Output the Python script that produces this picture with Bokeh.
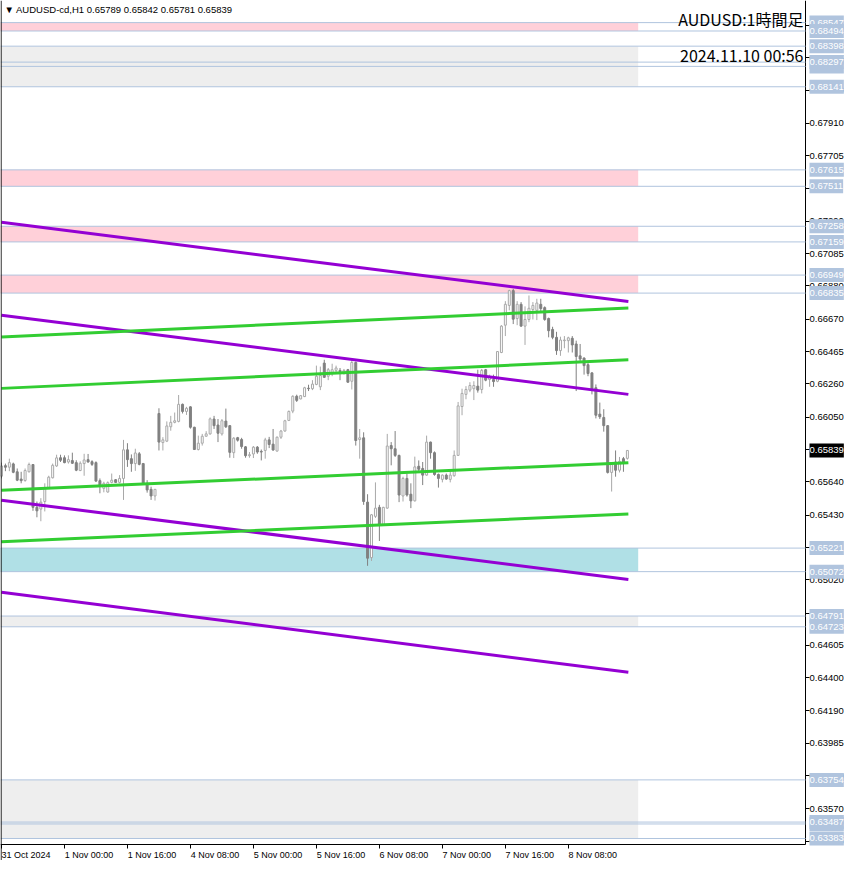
import numpy as np
from bokeh.plotting import figure
from bokeh.models import (Range1d, FixedTicker, Span, Label, ColumnDataSource,
                          PrintfTickFormatter, LinearAxis)
from bokeh.embed import file_html
from bokeh.resources import INLINE

# ---------------- data (AUDUSD-cd, H1) ----------------
open_ = [0.65676, 0.65743, 0.65733, 0.65754, 0.65704, 0.65658, 0.65649, 0.65704, 0.65750, 0.65479,
         0.65468, 0.65516, 0.65604, 0.65666, 0.65741, 0.65793, 0.65793, 0.65766, 0.65775, 0.65762,
         0.65712, 0.65756, 0.65781, 0.65768, 0.65762, 0.65648, 0.65599, 0.65576, 0.65637, 0.65654,
         0.65637, 0.65662, 0.65843, 0.65787, 0.65756, 0.65818, 0.65756, 0.65631, 0.65593, 0.65551,
         0.66073, 0.65889, 0.65898, 0.65989, 0.66017, 0.66023, 0.66131, 0.66086, 0.66115, 0.65986,
         0.65845, 0.65885, 0.65929, 0.65944, 0.66038, 0.66000, 0.65944, 0.66025, 0.65996, 0.65825,
         0.65920, 0.65908, 0.65862, 0.65806, 0.65817, 0.65860, 0.65833, 0.65839, 0.65906, 0.65879,
         0.65835, 0.65923, 0.65962, 0.66029, 0.66088, 0.66182, 0.66165, 0.66180, 0.66233, 0.66230,
         0.66257, 0.66242, 0.66392, 0.66309, 0.66330, 0.66346, 0.66346, 0.66334, 0.66350, 0.66277,
         0.66396, 0.65908, 0.65919, 0.65512, 0.65161, 0.65422, 0.65479, 0.65370, 0.65474, 0.65870,
         0.65850, 0.65808, 0.65551, 0.65662, 0.65562, 0.65520, 0.65739, 0.65725, 0.65683, 0.65892,
         0.65825, 0.65687, 0.65656, 0.65683, 0.65656, 0.65679, 0.65808, 0.66117, 0.66194, 0.66221,
         0.66230, 0.66246, 0.66225, 0.66350, 0.66288, 0.66288, 0.66277, 0.66459, 0.66632, 0.66757,
         0.66851, 0.66674, 0.66764, 0.66626, 0.66668, 0.66731, 0.66726, 0.66764, 0.66743, 0.66674,
         0.66605, 0.66555, 0.66471, 0.66534, 0.66534, 0.66549, 0.66513, 0.66438, 0.66424, 0.66382,
         0.66330, 0.66236, 0.66069, 0.66048, 0.65996, 0.65700, 0.65766, 0.65714, 0.65787, 0.65789]
high_ = [0.65762, 0.65756, 0.65787, 0.65762, 0.65725, 0.65704, 0.65725, 0.65762, 0.65752, 0.65516,
         0.65537, 0.65631, 0.65679, 0.65756, 0.65812, 0.65812, 0.65808, 0.65808, 0.65825, 0.65777,
         0.65770, 0.65818, 0.65817, 0.65777, 0.65770, 0.65662, 0.65641, 0.65643, 0.65693, 0.65658,
         0.65683, 0.65906, 0.65885, 0.65814, 0.65850, 0.65829, 0.65760, 0.65651, 0.65610, 0.65593,
         0.66106, 0.65923, 0.66023, 0.66058, 0.66079, 0.66190, 0.66136, 0.66115, 0.66119, 0.65989,
         0.65933, 0.65944, 0.65961, 0.66048, 0.66058, 0.66038, 0.66038, 0.66104, 0.66000, 0.65923,
         0.65925, 0.65919, 0.65867, 0.65829, 0.65867, 0.65867, 0.65845, 0.65919, 0.65925, 0.65975,
         0.65927, 0.65969, 0.66033, 0.66092, 0.66188, 0.66192, 0.66190, 0.66242, 0.66255, 0.66284,
         0.66376, 0.66370, 0.66413, 0.66361, 0.66388, 0.66376, 0.66361, 0.66355, 0.66355, 0.66413,
         0.66402, 0.65975, 0.65954, 0.65562, 0.65437, 0.65637, 0.65495, 0.65482, 0.65944, 0.65892,
         0.65962, 0.65812, 0.65673, 0.65693, 0.65631, 0.65800, 0.65776, 0.65766, 0.65933, 0.65895,
         0.65833, 0.65693, 0.65687, 0.65693, 0.65704, 0.65839, 0.66146, 0.66230, 0.66246, 0.66271,
         0.66277, 0.66350, 0.66355, 0.66355, 0.66319, 0.66319, 0.66468, 0.66632, 0.66784, 0.66856,
         0.66862, 0.66784, 0.66778, 0.66751, 0.66820, 0.66778, 0.66799, 0.66799, 0.66751, 0.66680,
         0.66622, 0.66590, 0.66559, 0.66563, 0.66559, 0.66563, 0.66534, 0.66513, 0.66428, 0.66392,
         0.66334, 0.66257, 0.66142, 0.66100, 0.66000, 0.65756, 0.65839, 0.65798, 0.65798, 0.65842]
low_ = [0.65662, 0.65708, 0.65708, 0.65695, 0.65645, 0.65631, 0.65641, 0.65700, 0.65457, 0.65416,
        0.65391, 0.65453, 0.65599, 0.65662, 0.65735, 0.65766, 0.65758, 0.65756, 0.65754, 0.65708,
        0.65708, 0.65679, 0.65762, 0.65741, 0.65641, 0.65568, 0.65574, 0.65572, 0.65631, 0.65633,
        0.65631, 0.65526, 0.65735, 0.65704, 0.65710, 0.65745, 0.65626, 0.65572, 0.65526, 0.65522,
        0.65839, 0.65839, 0.65892, 0.65964, 0.66011, 0.66017, 0.66073, 0.66064, 0.65977, 0.65842,
        0.65839, 0.65870, 0.65927, 0.65939, 0.65975, 0.65892, 0.65933, 0.65981, 0.65793, 0.65791,
        0.65895, 0.65850, 0.65793, 0.65793, 0.65791, 0.65818, 0.65776, 0.65787, 0.65854, 0.65837,
        0.65833, 0.65912, 0.65958, 0.66025, 0.66075, 0.66146, 0.66163, 0.66177, 0.66215, 0.66221,
        0.66252, 0.66221, 0.66298, 0.66284, 0.66309, 0.66330, 0.66284, 0.66319, 0.66268, 0.66225,
        0.65870, 0.65787, 0.65495, 0.65109, 0.65140, 0.65412, 0.65266, 0.65366, 0.65470, 0.65745,
        0.65798, 0.65512, 0.65516, 0.65547, 0.65474, 0.65516, 0.65708, 0.65620, 0.65679, 0.65787,
        0.65679, 0.65604, 0.65637, 0.65654, 0.65637, 0.65673, 0.65804, 0.66062, 0.66163, 0.66208,
        0.66158, 0.66205, 0.66200, 0.66277, 0.66242, 0.66242, 0.66271, 0.66455, 0.66563, 0.66726,
        0.66639, 0.66632, 0.66622, 0.66507, 0.66651, 0.66668, 0.66664, 0.66722, 0.66660, 0.66555,
        0.66543, 0.66444, 0.66438, 0.66486, 0.66459, 0.66459, 0.66215, 0.66396, 0.66319, 0.66309,
        0.66194, 0.66042, 0.66038, 0.65958, 0.65693, 0.65579, 0.65673, 0.65700, 0.65704, 0.65781]
close_ = [0.65741, 0.65733, 0.65762, 0.65701, 0.65651, 0.65648, 0.65712, 0.65750, 0.65479, 0.65457,
          0.65512, 0.65604, 0.65670, 0.65745, 0.65792, 0.65777, 0.65762, 0.65781, 0.65758, 0.65714,
          0.65758, 0.65779, 0.65766, 0.65751, 0.65645, 0.65620, 0.65631, 0.65635, 0.65651, 0.65637,
          0.65662, 0.65843, 0.65781, 0.65756, 0.65823, 0.65751, 0.65631, 0.65589, 0.65551, 0.65593,
          0.65892, 0.65906, 0.65994, 0.66017, 0.66027, 0.66131, 0.66086, 0.66106, 0.65986, 0.65845,
          0.65885, 0.65929, 0.65944, 0.66039, 0.65996, 0.65948, 0.66027, 0.65989, 0.65827, 0.65917,
          0.65904, 0.65864, 0.65806, 0.65812, 0.65860, 0.65829, 0.65829, 0.65906, 0.65877, 0.65842,
          0.65923, 0.65962, 0.66027, 0.66086, 0.66182, 0.66156, 0.66186, 0.66236, 0.66230, 0.66259,
          0.66309, 0.66313, 0.66302, 0.66350, 0.66350, 0.66361, 0.66338, 0.66346, 0.66271, 0.66396,
          0.65902, 0.65919, 0.65516, 0.65157, 0.65432, 0.65474, 0.65374, 0.65479, 0.65867, 0.65850,
          0.65808, 0.65557, 0.65662, 0.65557, 0.65520, 0.65735, 0.65720, 0.65683, 0.65892, 0.65825,
          0.65687, 0.65662, 0.65683, 0.65658, 0.65683, 0.65808, 0.66121, 0.66200, 0.66225, 0.66250,
          0.66250, 0.66221, 0.66346, 0.66284, 0.66302, 0.66275, 0.66465, 0.66626, 0.66764, 0.66851,
          0.66670, 0.66764, 0.66626, 0.66668, 0.66739, 0.66757, 0.66772, 0.66737, 0.66668, 0.66597,
          0.66555, 0.66471, 0.66538, 0.66538, 0.66552, 0.66507, 0.66434, 0.66418, 0.66376, 0.66326,
          0.66225, 0.66062, 0.66052, 0.65996, 0.65700, 0.65750, 0.65714, 0.65770, 0.65766, 0.65839]

x_tick_bars = [0, 16, 32, 48, 64, 80, 96, 112, 128, 144]
x_tick_labels = ["31 Oct 2024", "1 Nov 00:00", "1 Nov 16:00", "4 Nov 08:00", "5 Nov 00:00",
                 "5 Nov 16:00", "6 Nov 08:00", "7 Nov 00:00", "7 Nov 16:00", "8 Nov 08:00"]
y_ticks = [0.68530, 0.68325, 0.68120, 0.67910, 0.67705, 0.67500, 0.67290, 0.67085, 0.66880,
           0.66670, 0.66465, 0.66260, 0.66050, 0.65845, 0.65640, 0.65430, 0.65225, 0.65020,
           0.64810, 0.64605, 0.64400, 0.64190, 0.63985, 0.63780, 0.63570, 0.63365]
# tick values whose text is completely covered by a price label in the original
covered_ticks = [0.68530, 0.67500, 0.65845, 0.65225, 0.64810]

levels = [0.68547, 0.68494, 0.68398, 0.68297, 0.68270, 0.68141, 0.67615, 0.67511, 0.67258,
          0.67159, 0.66949, 0.66835, 0.65221, 0.65072, 0.64791, 0.64723, 0.63754, 0.63487,
          0.63475, 0.63383]
labelled_levels = [0.68547, 0.68494, 0.68398, 0.68270, 0.68297, 0.68141, 0.67615, 0.67511,
                   0.67258, 0.67159, 0.66949, 0.66835, 0.65221, 0.65072, 0.64791, 0.64723,
                   0.63754, 0.63475, 0.63487, 0.63383]

zone_bottom = [0.68494, 0.67511, 0.67159, 0.66835, 0.68141, 0.64723, 0.63383, 0.65072]
zone_top    = [0.68547, 0.67615, 0.67258, 0.66949, 0.68398, 0.64791, 0.63754, 0.65221]
zone_kind   = ["pink", "pink", "pink", "pink", "gray", "gray", "gray", "blue"]
zone_end_bar = 161.75

purple_x0 = [0, 0, 0, 0]
purple_x1 = [159.25, 159.25, 159.25, 159.25]
purple_y0 = [0.67283, 0.66695, 0.65524, 0.64942]
purple_y1 = [0.66782, 0.66194, 0.65023, 0.64435]
green_x0 = [0, 0, 0, 0]
green_x1 = [159.25, 159.25, 159.25, 159.25]
green_y0 = [0.66557, 0.66232, 0.65587, 0.65261]
green_y1 = [0.66741, 0.66413, 0.65762, 0.65437]

symbol_header = "\u25bc AUDUSD-cd,H1  0.65789 0.65842 0.65781 0.65839"
title_text = "AUDUSD:1時間足"
time_text = "2024.11.10 00:56"

# ---------------- geometry / styling ----------------
X_MIN, X_MAX = -0.25, 204.25          # chart (price area) extent in bars
Y_MIN, Y_MAX = 0.63345, 0.68687       # chart extent in price
W, H = 850, 860                       # canvas
CHART_W, CHART_H = 805, 844           # price area in px (rest: axis labels)
dxp = (X_MAX - X_MIN) / CHART_W
dyp = (Y_MAX - Y_MIN) / CHART_H
X_FULL = X_MIN + W * dxp
Y_FULL = Y_MIN - (H - CHART_H) * dyp

ZONE_COLORS = {"pink": "#FFD0D9", "gray": "#EEEEEE", "blue": "#B0E0E6"}
LEVEL_COLOR = "#B0C4DE"
BULL = "#A8A8A8"
BEAR = "#808080"
FONT = "Liberation Sans"
LABEL_HALF_PX = 24.5

p = figure(width=W, height=H, x_range=Range1d(X_MIN, X_FULL), y_range=Range1d(Y_FULL, Y_MAX),
           output_backend="svg", toolbar_location=None, x_axis_location=None,
           y_axis_location=None, min_border=0,
           background_fill_color="white", border_fill_color="white")
p.outline_line_color = None
p.xgrid.visible = False
p.ygrid.visible = False

# zones
zsrc = ColumnDataSource(dict(
    left=[X_MIN - 5] * len(zone_top), right=[zone_end_bar] * len(zone_top),
    bottom=zone_bottom, top=zone_top, color=[ZONE_COLORS[k] for k in zone_kind]))
p.quad(left="left", right="right", bottom="bottom", top="top", fill_color="color",
       line_color=None, source=zsrc)

# level lines (up to the price axis)
p.segment(x0=[X_MIN] * len(levels), y0=levels, x1=[X_MAX] * len(levels), y1=levels,
          line_color=LEVEL_COLOR, line_width=1)

# left border
p.add_layout(Span(location=X_MIN + 0.6 * dxp, dimension="height", line_color="black",
                  line_width=1))

# candles
n = len(open_)
idx = np.arange(n)
o = np.array(open_); c = np.array(close_); hi = np.array(high_); lo = np.array(low_)
bull = c >= o
csrc = ColumnDataSource(dict(
    x=idx, high=hi, low=lo, top=np.maximum(o, c), bottom=np.minimum(o, c),
    line=[BULL if b else BEAR for b in bull],
    fill=["white" if b else BEAR for b in bull]))
p.segment(x0="x", y0="low", x1="x", y1="high", line_color="line", line_width=1, source=csrc)
p.vbar(x="x", width=0.5, top="top", bottom="bottom", fill_color="fill", line_color="line",
       line_width=1, source=csrc)

# trend lines
p.segment(x0=purple_x0, y0=purple_y0, x1=purple_x1, y1=purple_y1, line_color="#9400D3",
          line_width=3)
p.segment(x0=green_x0, y0=green_y0, x1=green_x1, y1=green_y1, line_color="#32CD32",
          line_width=3)

# price axis (right edge of the chart)
ya = LinearAxis(fixed_location=X_MAX, bounds=(Y_MIN, Y_MAX), level="underlay")
ya.ticker = FixedTicker(ticks=y_ticks)
ya.formatter = PrintfTickFormatter(format="%.5f")
ya.major_label_overrides = {t: "" for t in covered_ticks}
ya.major_tick_in = 0
ya.major_tick_out = 4
ya.minor_tick_in = 0
ya.minor_tick_out = 0
ya.major_label_standoff = 0
ya.major_label_text_font = FONT
ya.major_label_text_font_size = "9.5px"
ya.major_label_text_color = "black"
ya.axis_line_color = "black"
ya.major_tick_line_color = "black"
p.add_layout(ya, "right")

# time axis: tick marks
xa = LinearAxis(fixed_location=Y_MIN, bounds=(X_MIN, X_MAX), level="underlay")
xa.ticker = FixedTicker(ticks=x_tick_bars)
xa.major_label_overrides = {b: "" for b in x_tick_bars}
xa.major_tick_in = 0
xa.major_tick_out = 4
xa.minor_tick_in = 0
xa.minor_tick_out = 0
xa.axis_line_color = "black"
p.add_layout(xa, "below")

# time axis: labels, starting at their tick (MT4 style)
label_pos = [b + LABEL_HALF_PX * dxp for b in x_tick_bars]
xl = LinearAxis(fixed_location=Y_MIN, level="underlay")
xl.ticker = FixedTicker(ticks=label_pos)
xl.major_label_overrides = {lp: t for lp, t in zip(label_pos, x_tick_labels)}
xl.major_tick_in = 0
xl.major_tick_out = 0
xl.minor_tick_in = 0
xl.minor_tick_out = 0
xl.axis_line_color = None
xl.major_tick_line_color = None
xl.major_label_standoff = 5
xl.major_label_text_font = FONT
xl.major_label_text_font_size = "9px"
xl.major_label_text_color = "black"
p.add_layout(xl, "below")

# price labels on the axis
LBL_X = X_MAX + 4 * dxp
for lv in labelled_levels:
    p.add_layout(Label(x=LBL_X, y=lv, text=f"{lv:.5f}", text_font=FONT,
                       text_font_size="9.5px", text_color="white", text_align="left",
                       text_baseline="middle", background_fill_color=LEVEL_COLOR,
                       padding=(0, 4), level="overlay"))
p.add_layout(Label(x=LBL_X, y=close_[-1], text=f"{close_[-1]:.5f}", text_font=FONT,
                   text_font_size="9.5px", text_color="white", text_align="left",
                   text_baseline="middle", background_fill_color="black", padding=(0, 4),
                   level="overlay"))

# header texts
p.add_layout(Label(x=X_MIN + 4 * dxp, y=Y_MAX - 9 * dyp, text=symbol_header, text_font=FONT,
                   text_font_size="9.5px", text_color="black", text_align="left",
                   text_baseline="middle", level="overlay"))
p.add_layout(Label(x=X_MAX - 2 * dxp, y=Y_MAX - 18 * dyp, text=title_text,
                   text_font="Noto Sans CJK JP", text_font_size="16px", text_color="black",
                   text_align="right", text_baseline="middle", level="overlay"))
p.add_layout(Label(x=X_MAX - 2 * dxp, y=Y_MAX - 54 * dyp, text=time_text,
                   text_font="Noto Sans CJK JP", text_font_size="16px", text_color="black",
                   text_align="right", text_baseline="middle", level="overlay"))

open("out.html", "w").write(file_html(p, INLINE))
